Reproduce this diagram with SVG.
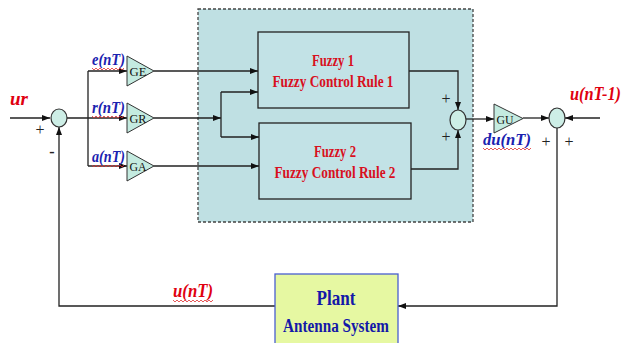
<svg xmlns="http://www.w3.org/2000/svg" width="626" height="343" viewBox="0 0 626 343">
<style>
.ln{fill:none;stroke:#222;stroke-width:1.3}
.ar{fill:none;stroke:#222;stroke-width:1.3;marker-end:url(#ah)}
.tri{fill:#c4ebe0;stroke:#333;stroke-width:1}
.sum{fill:#cdeee6;stroke:#333;stroke-width:1.2}
.fz{fill:#c2e2e6;stroke:#222;stroke-width:1.3}
.gl{font-family:"Liberation Serif",serif;font-size:13px;fill:#111;text-anchor:middle}
.ft{font-family:"Liberation Serif",serif;font-size:17px;font-weight:bold;fill:#d8101e;text-anchor:middle}
.rl{font-family:"Liberation Serif",serif;font-style:italic;font-weight:bold;fill:#e00010}
.bl{font-family:"Liberation Serif",serif;font-style:italic;font-weight:bold;font-size:17px;fill:#1a22b0}
.pm{font-family:"Liberation Serif",serif;font-size:16px;fill:#222;text-anchor:middle}
.pt{font-family:"Liberation Serif",serif;font-weight:bold;fill:#1418a8;text-anchor:middle}
.sq{fill:none;stroke:#e03030;stroke-width:0.8}
</style>
<defs>
<marker id="ah" viewBox="0 0 8 6" refX="8" refY="3" markerWidth="8" markerHeight="6" markerUnits="userSpaceOnUse" orient="auto">
<path d="M0,0 L8,3 L0,6 z" fill="#111"/>
</marker>
</defs>
<rect width="626" height="343" fill="#fff"/>
<g id="fuzzy-controller">
<rect x="198" y="9" width="275" height="213" fill="#bfe0e3" stroke="#444" stroke-width="1.3" stroke-dasharray="3,2"/>
</g>
<g id="connectors">
<path class="ar" d="M10,118 H50"/>
<path class="ln" d="M67,118 H88 M88,71 V166"/>
<path class="ar" d="M88,71 H127"/>
<path class="ar" d="M88,118 H127"/>
<path class="ar" d="M88,166 H127"/>
<path class="ar" d="M154,71 H258"/>
<path class="ar" d="M154,118 H221"/>
<path class="ln" d="M221,92 V137"/>
<path class="ar" d="M221,92 H258"/>
<path class="ar" d="M221,137 H259"/>
<path class="ar" d="M154,166 H259"/>
<path class="ar" d="M409,71 H458 V110"/>
<path class="ar" d="M411,169 H458 V130"/>
<path class="ar" d="M466,119 H494"/>
<path class="ar" d="M523,118 H549"/>
<path class="ar" d="M600,118 H565"/>
<path class="ar" d="M557,128 V306 H398"/>
<path class="ar" d="M275,306 H59 V127"/>
</g>
<g id="sum1"><ellipse class="sum" cx="59" cy="118" rx="8" ry="9"/></g>
<g id="GE"><path class="tri" d="M127,56 L154,71 L127,86 z"/><text class="gl" x="138" y="76" textLength="17" lengthAdjust="spacingAndGlyphs">GE</text></g>
<g id="GR"><path class="tri" d="M127,103 L154,118 L127,133 z"/><text class="gl" x="138" y="123" textLength="17" lengthAdjust="spacingAndGlyphs">GR</text></g>
<g id="GA"><path class="tri" d="M127,151 L154,166 L127,181 z"/><text class="gl" x="138" y="171" textLength="17" lengthAdjust="spacingAndGlyphs">GA</text></g>
<g id="fuzzy1">
<rect class="fz" x="258" y="32" width="151" height="76"/>
<text class="ft" x="333" y="66" textLength="42" lengthAdjust="spacingAndGlyphs">Fuzzy 1</text>
<text class="ft" x="333" y="87" textLength="121" lengthAdjust="spacingAndGlyphs">Fuzzy Control Rule 1</text>
</g>
<g id="fuzzy2">
<rect class="fz" x="259" y="123" width="152" height="76"/>
<text class="ft" x="335" y="157" textLength="42" lengthAdjust="spacingAndGlyphs">Fuzzy 2</text>
<text class="ft" x="335" y="178" textLength="121" lengthAdjust="spacingAndGlyphs">Fuzzy Control Rule 2</text>
</g>
<g id="sum2"><ellipse class="sum" cx="458" cy="120" rx="8" ry="10"/></g>
<g id="GU"><path class="tri" d="M494,104 L523,118.5 L494,133 z"/><text class="gl" x="505" y="124" textLength="17" lengthAdjust="spacingAndGlyphs">GU</text></g>
<g id="sum3"><ellipse class="sum" cx="557" cy="118" rx="8" ry="10"/></g>
<g id="plant">
<rect x="275" y="274" width="123" height="72" fill="#e6f8a2" stroke="#4a5fd0" stroke-width="1.3"/>
<text class="pt" x="336" y="305" font-size="22" textLength="39" lengthAdjust="spacingAndGlyphs">Plant</text>
<text class="pt" x="336" y="332" font-size="18" textLength="106" lengthAdjust="spacingAndGlyphs">Antenna System</text>
</g>
<g id="labels">
<text class="rl" x="10" y="105" font-size="19" textLength="18" lengthAdjust="spacingAndGlyphs">ur</text>
<text class="pm" x="40" y="135">+</text>
<text class="pm" x="52" y="157" font-weight="bold">-</text>
<text class="bl" x="92" y="65" textLength="33" lengthAdjust="spacingAndGlyphs">e(nT)</text>
<text class="bl" x="92" y="113" textLength="33" lengthAdjust="spacingAndGlyphs">r(nT)</text>
<text class="bl" x="92" y="162" textLength="33" lengthAdjust="spacingAndGlyphs">a(nT)</text>
<path class="sq" d="M92,68 l2,2 l2,-2 l2,2 l2,-2 l2,2 l2,-2 l2,2 l2,-2 l2,2 l2,-2 l2,2 l2,-2 l2,2 l2,-2 l2,2 l2,-2"/>
<path class="sq" d="M92,116 l2,2 l2,-2 l2,2 l2,-2 l2,2 l2,-2 l2,2 l2,-2 l2,2 l2,-2 l2,2 l2,-2 l2,2 l2,-2 l2,2 l2,-2"/>
<path class="sq" d="M92,165 l2,2 l2,-2 l2,2 l2,-2 l2,2 l2,-2 l2,2 l2,-2 l2,2 l2,-2 l2,2 l2,-2 l2,2 l2,-2 l2,2 l2,-2"/>
<text class="pm" x="446" y="104">+</text>
<text class="pm" x="446" y="142">+</text>
<text class="bl" x="483" y="145" textLength="48" lengthAdjust="spacingAndGlyphs">du(nT)</text>
<path class="sq" d="M483,148 l2,2 l2,-2 l2,2 l2,-2 l2,2 l2,-2 l2,2 l2,-2 l2,2 l2,-2 l2,2 l2,-2 l2,2 l2,-2 l2,2 l2,-2 l2,2 l2,-2 l2,2 l2,-2 l2,2 l2,-2 l2,2 l2,-2"/>
<text class="pm" x="546" y="147">+</text>
<text class="pm" x="569" y="147">+</text>
<text class="rl" x="570" y="100" font-size="18" textLength="51" lengthAdjust="spacingAndGlyphs">u(nT-1)</text>
<text class="rl" x="173" y="297" font-size="19" textLength="40" lengthAdjust="spacingAndGlyphs">u(nT)</text>
<path class="sq" d="M173,300 l2,2 l2,-2 l2,2 l2,-2 l2,2 l2,-2 l2,2 l2,-2 l2,2 l2,-2 l2,2 l2,-2 l2,2 l2,-2 l2,2 l2,-2 l2,2 l2,-2 l2,2 l2,-2"/>
</g>
</svg>
